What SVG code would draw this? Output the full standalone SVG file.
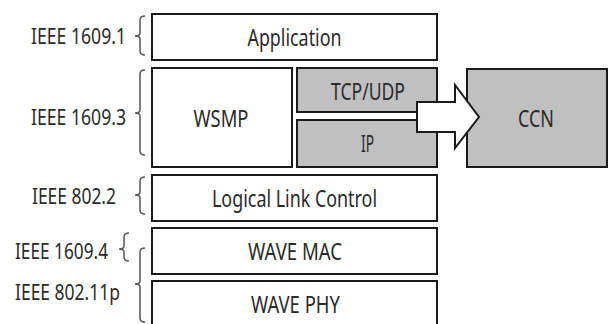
<svg xmlns="http://www.w3.org/2000/svg" width="612" height="324" viewBox="0 0 612 324">
<style>
.box{fill:#fff;stroke:#1a1a1a;stroke-width:2}
.gray{fill:#c0c0c0;stroke:#1a1a1a;stroke-width:2}
.t{font-family:"Noto Sans","Open Sans","Liberation Sans",sans-serif;font-size:24px;fill:#2a2a2a;text-anchor:middle}
.lbl{font-family:"Noto Sans","Open Sans","Liberation Sans",sans-serif;font-size:22px;fill:#2a2a2a}
.brace{fill:none;stroke:#555;stroke-width:1.5}
</style>
<rect width="612" height="324" fill="#fff"/>
<g id="labels">
<text class="lbl" x="31" y="44" textLength="95" lengthAdjust="spacingAndGlyphs">IEEE 1609.1</text>
<text class="lbl" x="31" y="125" textLength="95" lengthAdjust="spacingAndGlyphs">IEEE 1609.3</text>
<text class="lbl" x="32" y="204" textLength="84" lengthAdjust="spacingAndGlyphs">IEEE 802.2</text>
<text class="lbl" x="15" y="259" textLength="93" lengthAdjust="spacingAndGlyphs">IEEE 1609.4</text>
<text class="lbl" x="15" y="300" textLength="105" lengthAdjust="spacingAndGlyphs">IEEE 802.11p</text>
</g>
<g id="braces">
<path class="brace" d="M145 16 Q140 16 140 20 L140 33 Q140 36 135 36 Q140 36 140 39 L140 51 Q140 55 145 55"/>
<path class="brace" d="M145 70 Q140 70 140 74 L140 110 Q140 113 135 113 Q140 113 140 116 L140 151 Q140 155 145 155"/>
<path class="brace" d="M145 177 Q140 177 140 181 L140 192 Q140 195 135 195 Q140 195 140 198 L140 210 Q140 214 145 214"/>
<path class="brace" d="M129 233 Q124 233 124 237 L124 246 Q124 249 119 249 Q124 249 124 252 L124 257 Q124 261 129 261"/>
<path class="brace" d="M145 248 Q140 248 140 252 L140 281 Q140 284 135 284 Q140 284 140 287 L140 318 Q140 322 145 322"/>
</g>
<g id="application"><rect class="box" x="152" y="14" width="285" height="46"/><text class="t" x="294.5" y="46" textLength="94" lengthAdjust="spacingAndGlyphs">Application</text></g>
<g id="wsmp"><rect class="box" x="152" y="68" width="140" height="99"/><text class="t" x="221" y="127" textLength="55" lengthAdjust="spacingAndGlyphs">WSMP</text></g>
<g id="tcpudp"><rect class="gray" x="297" y="68" width="140" height="44"/><text class="t" x="368" y="100" textLength="74" lengthAdjust="spacingAndGlyphs">TCP/UDP</text></g>
<g id="ip"><rect class="gray" x="297" y="120" width="140" height="47"/><text class="t" x="367.5" y="152" textLength="13" lengthAdjust="spacingAndGlyphs">IP</text></g>
<g id="ccn"><rect class="gray" x="467" y="69" width="140" height="98"/><text class="t" x="536" y="127" textLength="36" lengthAdjust="spacingAndGlyphs">CCN</text></g>
<g id="llc"><rect class="box" x="152" y="175" width="285" height="46"/><text class="t" x="294.5" y="207" textLength="165" lengthAdjust="spacingAndGlyphs">Logical Link Control</text></g>
<g id="wavemac"><rect class="box" x="152" y="228" width="285" height="46"/><text class="t" x="295" y="260" textLength="94" lengthAdjust="spacingAndGlyphs">WAVE MAC</text></g>
<g id="wavephy"><rect class="box" x="152" y="281" width="285" height="50"/><text class="t" x="295.5" y="313" textLength="89" lengthAdjust="spacingAndGlyphs">WAVE PHY</text></g>
<g id="connectors">
<polygon points="417,102 455,102 455,85 479,117 455,148 455,132 417,132" fill="#fff" stroke="#1a1a1a" stroke-width="2" stroke-linejoin="miter"/>
</g>
</svg>
